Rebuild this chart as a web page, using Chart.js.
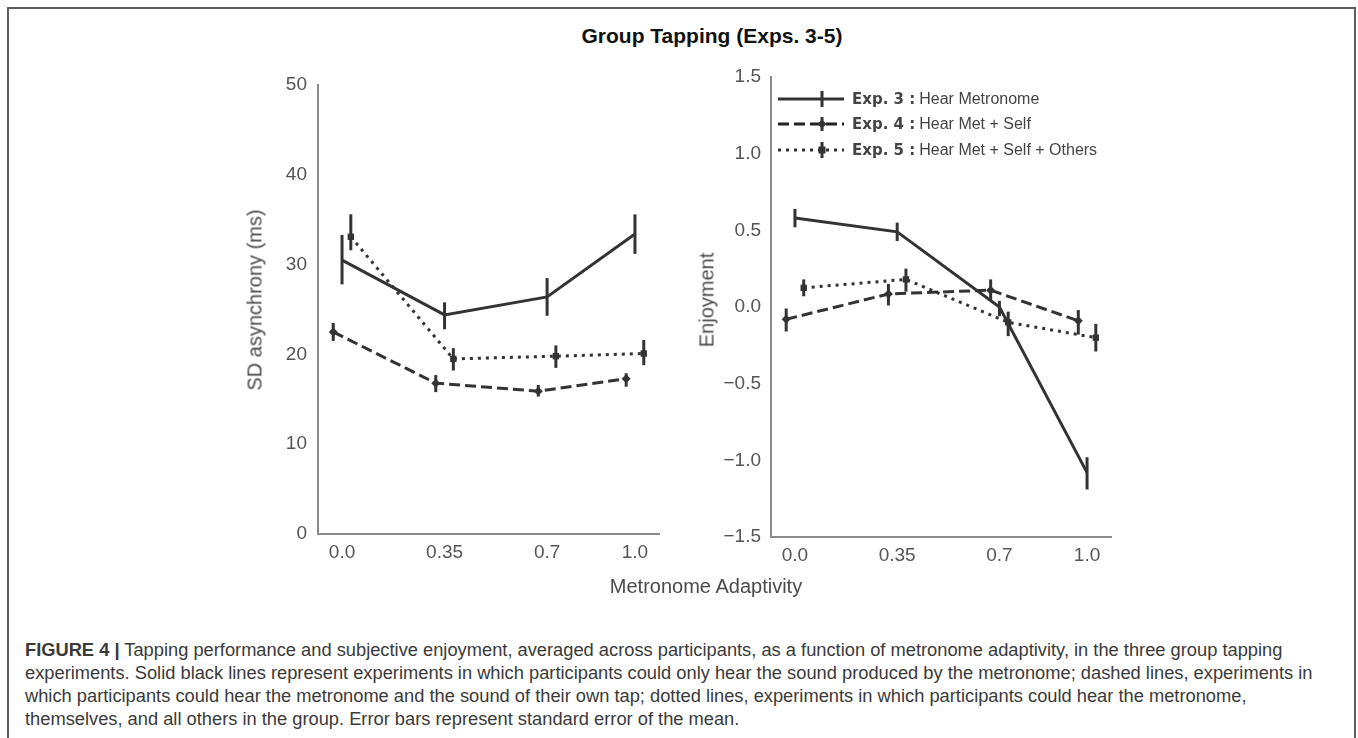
<!DOCTYPE html>
<html>
<head>
<meta charset="utf-8">
<script src="https://cdn.jsdelivr.net/npm/chart.js@4.4.1/dist/chart.umd.min.js"></script>
<style>
    html, body {
        margin: 0;
        padding: 0;
        background: #fff;
    }

    body {
        position: relative;
        width: 1358px;
        height: 738px;
        overflow: hidden;
        font-family: "Liberation Sans", Arial, sans-serif;
    }

    .frame {
        position: absolute;
        left: 7px;
        top: 7px;
        width: 1345px;
        height: 800px;
        border: 2px solid #5e5e5e;
    }

    .fig-title {
        position: absolute;
        left: 512px;
        width: 400px;
        top: 24px;
        line-height: 24px;
        text-align: center;
        font-size: 21px;
        font-weight: bold;
        color: #111;
    }

    .chart-box {
        position: absolute;
    }

    .y-title {
        position: absolute;
        transform: translate(-50%, -50%) rotate(-90deg);
        white-space: nowrap;
        font-size: 20px;
        color: #4a4a4a;
    }

    .x-title {
        position: absolute;
        left: 506px;
        width: 400px;
        top: 574px;
        line-height: 24px;
        text-align: center;
        font-size: 20px;
        color: #4a4a4a;
    }

    .legend-row {
        position: absolute;
        left: 778px;
        height: 20px;
        display: flex;
        align-items: center;
        white-space: nowrap;
        color: #444;
    }

    .legend-row svg {
        display: block;
        margin-right: 8px;
    }

    .legend-row b {
        font-family: "DejaVu Sans", sans-serif;
        font-size: 15px;
        margin-right: 4px;
    }

    .legend-row span {
        font-size: 16px;
    }

    .caption {
        position: absolute;
        left: 25px;
        top: 638px;
        width: 1320px;
        font-size: 18.3px;
        line-height: 23px;
        color: #3a3a3a;
        white-space: nowrap;
    }
</style>
</head>
<body>
<div class="frame"></div>
<div class="fig-title">Group Tapping (Exps. 3-5)</div>

<div class="chart-box" style="left:230px; top:60px;">
    <canvas id="asyncChart" width="449" height="519"></canvas>
</div>
<div class="chart-box" style="left:690px; top:52px;">
    <canvas id="enjoyChart" width="441" height="530"></canvas>
</div>

<div class="y-title" style="left:255px; top:300px;">SD asynchrony (ms)</div>
<div class="y-title" style="left:707px; top:300px;">Enjoyment</div>
<div class="x-title">Metronome Adaptivity</div>

<div class="legend-row" style="top:89px;">
    <svg width="66" height="20">
        <line x1="0" y1="10" x2="66" y2="10" stroke="#333" stroke-width="3"></line>
        <line x1="44" y1="2" x2="44" y2="18" stroke="#333" stroke-width="3"></line>
    </svg>
    <b>Exp. 3 :</b><span>Hear Metronome</span>
</div>
<div class="legend-row" style="top:114px;">
    <svg width="66" height="20">
        <line x1="0" y1="10" x2="66" y2="10" stroke="#222" stroke-width="3" stroke-dasharray="11 5"></line>
        <line x1="44" y1="3" x2="44" y2="17" stroke="#333" stroke-width="3"></line>
        <polygon points="44,5.5 48.5,10 44,14.5 39.5,10" fill="#333"></polygon>
    </svg>
    <b>Exp. 4 :</b><span>Hear Met + Self</span>
</div>
<div class="legend-row" style="top:140px;">
    <svg width="66" height="20">
        <line x1="0" y1="10" x2="66" y2="10" stroke="#333" stroke-width="3" stroke-dasharray="3 5"></line>
        <line x1="44" y1="2" x2="44" y2="18" stroke="#333" stroke-width="3"></line>
        <rect x="40.5" y="6.5" width="7" height="7" fill="#333"></rect>
    </svg>
    <b>Exp. 5 :</b><span>Hear Met + Self + Others</span>
</div>

<div class="caption">
    <b>FIGURE 4 |</b> Tapping performance and subjective enjoyment, averaged across participants, as a function of metronome adaptivity, in the three group tapping<br>
    experiments. Solid black lines represent experiments in which participants could only hear the sound produced by the metronome; dashed lines, experiments in<br>
    which participants could hear the metronome and the sound of their own tap; dotted lines, experiments in which participants could hear the metronome,<br>
    themselves, and all others in the group. Error bars represent standard error of the mean.
</div>

<script>
// Oś X - adaptacyjność metronomu
const adaptivity = [0, 0.35, 0.7, 1.0];
const xTickLabels = ['0.0', '0.35', '0.7', '1.0'];

// Lewy wykres - SD asynchrony (ms)
const asyncExp3 = [30.5, 24.4, 26.4, 33.4];
const asyncExp3Low = [27.8, 22.8, 24.3, 31.2];
const asyncExp3High = [33.3, 25.8, 28.5, 35.6];
const asyncExp4 = [22.5, 16.8, 15.9, 17.3];
const asyncExp4Low = [21.5, 15.8, 15.3, 16.4];
const asyncExp4High = [23.5, 17.7, 16.6, 17.9];
const asyncExp5 = [33.1, 19.5, 19.8, 20.1];
const asyncExp5Low = [31.6, 18.2, 18.5, 18.8];
const asyncExp5High = [35.6, 20.7, 21.0, 21.6];

// Prawy wykres - enjoyment
const enjoyExp3 = [0.58, 0.49, 0.0, -1.08];
const enjoyExp3Low = [0.52, 0.43, -0.06, -1.19];
const enjoyExp3High = [0.64, 0.55, 0.04, -0.98];
const enjoyExp4 = [-0.08, 0.085, 0.11, -0.09];
const enjoyExp4Low = [-0.16, 0.01, 0.04, -0.18];
const enjoyExp4High = [-0.01, 0.15, 0.18, -0.02];
const enjoyExp5 = [0.125, 0.18, -0.10, -0.20];
const enjoyExp5Low = [0.07, 0.10, -0.19, -0.29];
const enjoyExp5High = [0.18, 0.25, -0.03, -0.11];

// Przesunięcie serii w poziomie (dodge)
const DODGE = { exp3: 0, exp4: -0.03, exp5: 0.03 };

const LINE_COLOR = '#333';
const TICK_COLOR = '#555';
const AXIS_COLOR = '#8a8a8a';

// Słupki błędów rysowane przez skale wykresu
const errorBars = {
    id: 'errorBars',
    afterDatasetsDraw(chart) {
        const { ctx, scales } = chart;
        chart.data.datasets.forEach((ds) => {
            ctx.save();
            ctx.strokeStyle = ds.borderColor;
            ctx.lineWidth = 3;
            ctx.setLineDash([]);
            ds.data.forEach((p, j) => {
                const px = scales.x.getPixelForValue(p.x);
                ctx.beginPath();
                ctx.moveTo(px, scales.y.getPixelForValue(ds.errLow[j]));
                ctx.lineTo(px, scales.y.getPixelForValue(ds.errHigh[j]));
                ctx.stroke();
            });
            ctx.restore();
        });
    },
};

function points(values, offset) {
    return values.map((v, i) => ({ x: adaptivity[i] + offset, y: v }));
}

function series(values, low, high, offset, style) {
    return {
        data: points(values, offset),
        errLow: low,
        errHigh: high,
        borderColor: LINE_COLOR,
        backgroundColor: LINE_COLOR,
        borderWidth: 3,
        borderDash: style.dash,
        borderCapStyle: 'butt',
        tension: 0,
        fill: false,
        pointStyle: style.point,
        pointRadius: style.radius,
        pointBackgroundColor: LINE_COLOR,
        pointBorderWidth: 0,
    };
}

const styles = {
    exp3: { dash: [], point: 'circle', radius: 0 },
    exp4: { dash: [11, 5], point: 'rectRot', radius: 4.5 },
    exp5: { dash: [3, 5], point: 'rect', radius: 4.5 },
};

function makeChart(id, datasets, y) {
    return new Chart(document.getElementById(id), {
        type: 'line',
        data: { datasets },
        options: {
            responsive: false,
            animation: false,
            devicePixelRatio: 1,
            layout: { padding: { top: 25, right: 20, bottom: 0, left: 0 } },
            plugins: {
                legend: { display: false },
                tooltip: { enabled: false },
            },
            scales: {
                x: {
                    type: 'linear',
                    min: -0.082,
                    max: 1.082,
                    afterBuildTicks: (s) => {
                        s.ticks = adaptivity.map((v) => ({ value: v }));
                    },
                    afterFit: (s) => {
                        s.height = 45;
                    },
                    ticks: {
                        callback: (v, i) => xTickLabels[i],
                        autoSkip: false,
                        maxRotation: 0,
                        padding: 7,
                        color: TICK_COLOR,
                        font: { family: 'Liberation Sans', size: 19 },
                    },
                    grid: { display: false, drawTicks: false },
                    border: { display: true, color: AXIS_COLOR, width: 2 },
                },
                y: {
                    min: y.min,
                    max: y.max,
                    afterFit: (s) => {
                        s.width = y.width;
                    },
                    ticks: {
                        stepSize: y.step,
                        padding: y.pad,
                        callback: y.format,
                        color: TICK_COLOR,
                        font: { family: 'Liberation Sans', size: 19 },
                    },
                    grid: { display: false, drawTicks: false },
                    border: { display: true, color: AXIS_COLOR, width: 2 },
                },
            },
        },
        plugins: [errorBars],
    });
}

makeChart('asyncChart', [
    series(asyncExp3, asyncExp3Low, asyncExp3High, DODGE.exp3, styles.exp3),
    series(asyncExp4, asyncExp4Low, asyncExp4High, DODGE.exp4, styles.exp4),
    series(asyncExp5, asyncExp5Low, asyncExp5High, DODGE.exp5, styles.exp5),
], { min: 0, max: 50, step: 10, width: 88, pad: 11, format: (v) => v });

makeChart('enjoyChart', [
    series(enjoyExp3, enjoyExp3Low, enjoyExp3High, DODGE.exp3, styles.exp3),
    series(enjoyExp4, enjoyExp4Low, enjoyExp4High, DODGE.exp4, styles.exp4),
    series(enjoyExp5, enjoyExp5Low, enjoyExp5High, DODGE.exp5, styles.exp5),
], {
    min: -1.5, max: 1.5, step: 0.5, width: 81, pad: 10,
    format: (v) => (v < 0 ? '\u2212' : '') + Math.abs(v).toFixed(1),
});
</script>
</body>
</html>
